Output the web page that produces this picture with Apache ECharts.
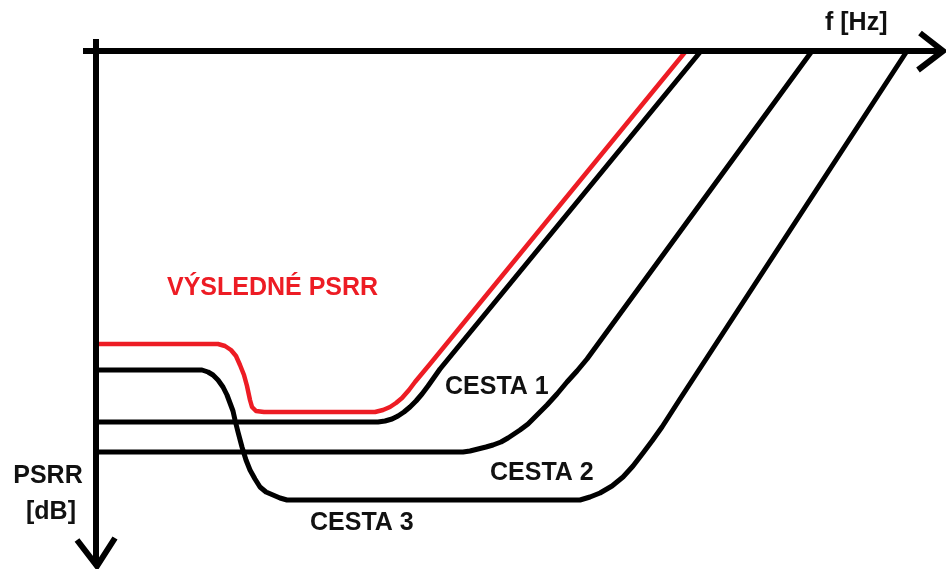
<!DOCTYPE html>
<html>
<head>
<meta charset="utf-8">
<script src="https://cdn.jsdelivr.net/npm/echarts@6/dist/echarts.min.js"></script>
<style>
  html, body { margin: 0; padding: 0; background: #fff; }
  #chart { width: 946px; height: 569px; }
</style>
</head>
<body>
<div id="chart"></div>
<script>
// sketch units: x = f, y = PSRR (drawn downwards, like the original paint sketch)
var fAxisLine = [[83, 51], [942, 51]];
var fArrow = [[920, 33], [943, 51], [918, 70]];
var psrrAxisLine = [[96, 39], [96, 566]];
var psrrArrow = [[77, 540], [97, 566], [115, 538]];

var vysledne = [[96, 344], [218, 344], [225, 346], [231, 350], [236, 356], [240, 365], [244, 375], [247, 386],
  [250, 400], [252, 407], [256, 411], [264, 412], [375, 412], [383, 410], [390, 407], [396, 403], [402, 398],
  [409, 390], [415, 382], [430, 364], [686, 51]];
var cesta1 = [[96, 422], [378, 422], [385, 421], [392, 419], [398, 416], [404, 412], [410, 407], [416, 401],
  [422, 394], [428, 386], [440, 369], [701, 51]];
var cesta2 = [[96, 452], [463, 452], [470, 451], [478, 449], [486, 447], [493, 445], [501, 442], [508, 438],
  [514, 434], [520, 430], [528, 424], [535, 417], [541, 411], [547, 405], [557, 394], [567, 382], [577, 371],
  [587, 359], [812, 51]];
var cesta3 = [[96, 370], [202, 370], [208, 372], [213, 375], [218, 380], [223, 387], [227, 395], [230, 403],
  [233, 411], [235, 420], [238, 432], [242, 447], [246, 460], [250, 470], [255, 479], [260, 487], [266, 492],
  [273, 495], [280, 498], [287, 500], [580, 500], [590, 497], [600, 493], [612, 486], [623, 477], [633, 466],
  [643, 453], [652, 441], [662, 427], [680, 399], [907, 51]];

var labels = ['VÝSLEDNÉ PSRR', 'CESTA 1', 'CESTA 2', 'CESTA 3', 'f [Hz]', 'PSRR', '[dB]'];

var chart = echarts.init(document.getElementById('chart'));

var curve = function (data, color, width) {
  return {
    type: 'line',
    data: data,
    symbol: 'none',
    silent: true,
    lineStyle: { color: color, width: width, join: 'round' },
    z: color === '#ed1c24' ? 3 : 2
  };
};
var stroke = function (data) {
  return {
    type: 'line',
    data: data,
    symbol: 'none',
    silent: true,
    lineStyle: { color: '#000', width: 6, join: 'miter' },
    z: 4
  };
};

var font = 'bold 25px "Liberation Sans", Arial, sans-serif';
var txt = function (s, x, y, color, align) {
  return {
    type: 'text',
    x: x,
    y: y,
    silent: true,
    style: {
      text: s,
      font: font,
      fill: color,
      textAlign: align || 'left',
      textVerticalAlign: 'middle'
    }
  };
};

chart.setOption({
  animation: false,
  backgroundColor: '#fff',
  grid: { left: 0, right: 0, top: 0, bottom: 0 },
  xAxis: { type: 'value', min: 0, max: 946, show: false },
  yAxis: { type: 'value', min: 0, max: 569, inverse: true, show: false },
  series: [
    curve(cesta3, '#000', 5),
    curve(cesta2, '#000', 5),
    curve(cesta1, '#000', 5),
    curve(vysledne, '#ed1c24', 4.5),
    stroke(fAxisLine),
    stroke(fArrow),
    stroke(psrrAxisLine),
    stroke(psrrArrow)
  ],
  graphic: [
    txt(labels[0], 167, 288, '#ed1c24'),
    txt(labels[1], 445, 387, '#111'),
    txt(labels[2], 490, 473, '#111'),
    txt(labels[3], 310, 523, '#111'),
    txt(labels[4], 825, 23, '#111'),
    txt(labels[5], 48, 476, '#111', 'center'),
    txt(labels[6], 51, 512, '#111', 'center')
  ]
});
</script>
</body>
</html>
